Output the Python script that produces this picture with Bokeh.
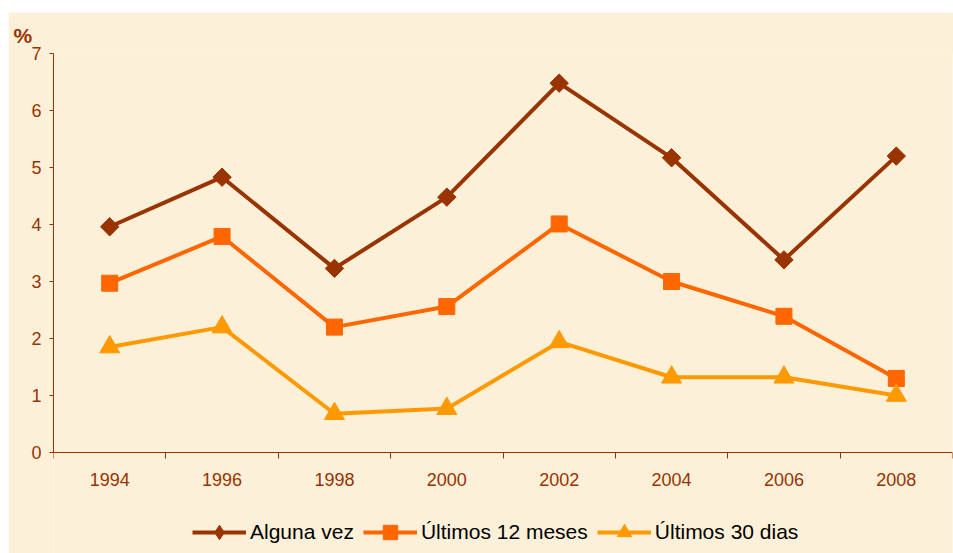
import numpy as np
from bokeh.plotting import figure
from bokeh.models import FixedTicker, Legend, LegendItem, Range1d
from bokeh.embed import file_html
from bokeh.resources import INLINE

years = [1994, 1996, 1998, 2000, 2002, 2004, 2006, 2008]
alguna_vez = [3.96, 4.83, 3.23, 4.48, 6.48, 5.17, 3.38, 5.20]
ultimos_12 = [2.97, 3.79, 2.20, 2.56, 4.01, 3.00, 2.39, 1.30]
ultimos_30 = [1.85, 2.20, 0.68, 0.77, 1.94, 1.32, 1.32, 1.00]
y_ticks = [0, 1, 2, 3, 4, 5, 6, 7]

series_names = ["Alguna vez", "Últimos 12 meses", "Últimos 30 dias"]
colors = ["#993300", "#FF6600", "#FF9900"]

BROWN = "#993300"
CREAM = "#FCF0D8"
FONT = "Liberation Sans"

# frame runs from the top of the value axis to the bottom of the chart;
# the space under 0 holds the year labels and the legend
FRAME_H = 500
PX_PER_UNIT = 57
y_lo = y_ticks[-1] - FRAME_H / PX_PER_UNIT

p = figure(width=945, height=541, output_backend="svg", toolbar_location=None,
           x_range=Range1d(years[0] - 1, years[-1] + 1), y_range=Range1d(y_lo, y_ticks[-1]),
           min_border_left=45, min_border_right=1, min_border_top=41, min_border_bottom=0)
p.styles = {"margin-left": "8px", "margin-top": "12px"}
p.background_fill_color = CREAM
p.border_fill_color = CREAM
p.outline_line_color = None
p.xgrid.grid_line_color = None
p.ygrid.grid_line_color = None

p.title.text = "%"
p.title.align = "left"
p.title.offset = -40
p.title.text_font = FONT
p.title.text_font_size = "21px"
p.title.text_font_style = "bold"
p.title.text_color = BROWN
p.title.standoff = 13

# x axis: drawn at y = 0, labels at the years, tick marks between them
p.xaxis.fixed_location = 0
p.xaxis.ticker = FixedTicker(ticks=years, minor_ticks=[y - 1 for y in years] + [years[-1] + 1])
p.xaxis.major_tick_line_color = None
p.xaxis.minor_tick_line_color = BROWN
p.xaxis.minor_tick_out = 6
p.xaxis.minor_tick_in = 0
p.xaxis.axis_line_color = BROWN
p.xaxis.major_label_text_color = BROWN
p.xaxis.major_label_text_font = FONT
p.xaxis.major_label_text_font_size = "18px"
p.xaxis.major_label_standoff = 14

p.yaxis.ticker = FixedTicker(ticks=y_ticks)
p.yaxis.bounds = (y_ticks[0], y_ticks[-1])
p.yaxis.major_tick_out = 4
p.yaxis.major_tick_in = 0
p.yaxis.minor_tick_line_color = None
p.yaxis.major_tick_line_color = BROWN
p.yaxis.axis_line_color = BROWN
p.yaxis.major_label_text_color = BROWN
p.yaxis.major_label_text_font = FONT
p.yaxis.major_label_text_font_size = "18px"
p.yaxis.major_label_standoff = 8

data = [alguna_vez, ultimos_12, ultimos_30]
markers = [("square", 13, np.pi / 4), ("square", 16, 0), ("triangle", 20, 0)]
legend_markers = ["diamond", "square", "triangle"]
items = []
for name, vals, col, (mk, sz, ang), lmk in zip(series_names, data, colors, markers, legend_markers):
    ln = p.line(years, vals, line_color=col, line_width=4)
    if lmk == mk and ang == 0:
        sc = p.scatter(years, vals, marker=mk, size=sz, angle=ang, fill_color=col, line_color=col)
        items.append(LegendItem(label=name, renderers=[ln, sc]))
    else:
        # legend marker shape; in the plot it sits fully hidden under the real marker
        lsc = p.scatter(years, vals, marker=lmk, size=8, fill_color=col, line_color=col)
        sc = p.scatter(years, vals, marker=mk, size=sz, angle=ang, fill_color=col, line_color=col)
        items.append(LegendItem(label=name, renderers=[ln, lsc]))

legend = Legend(items=items, orientation="horizontal", location=(139, 3),
                glyph_width=54, glyph_height=36, label_standoff=4, spacing=9,
                padding=0, margin=0, border_line_color=None, background_fill_alpha=0,
                label_text_font=FONT, label_text_font_size="21px", label_text_color="black")
p.add_layout(legend)

open("out.html", "w").write(file_html(p, INLINE))
